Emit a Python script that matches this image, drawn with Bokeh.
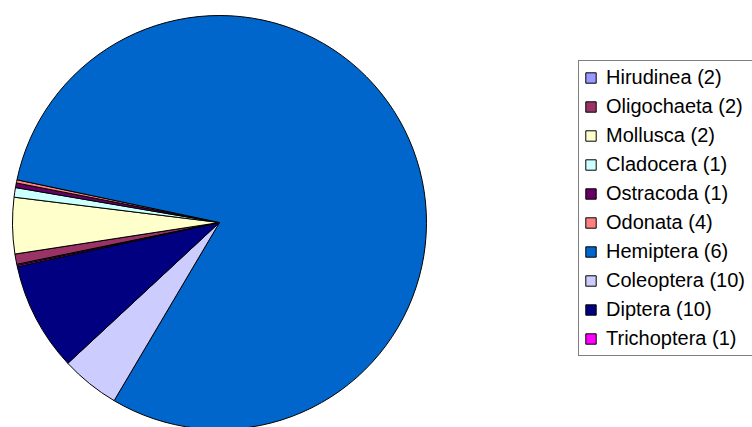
import numpy as np
from bokeh.plotting import figure
from bokeh.models import Range1d, ColumnDataSource, Legend, LegendItem
from bokeh.embed import file_html
from bokeh.resources import INLINE

# ---- data (legend order = clockwise slice order) ----
categories = ["Hirudinea (2)", "Oligochaeta (2)", "Mollusca (2)", "Cladocera (1)",
              "Ostracoda (1)", "Odonata (4)", "Hemiptera (6)", "Coleoptera (10)",
              "Diptera (10)", "Trichoptera (1)"]
shares = [0.1, 0.8, 4.4, 0.75, 0.36, 0.25, 80.4, 4.6, 8.5, 0.1]   # percent of total
colors = ["#9999FF", "#993366", "#FFFFCC", "#CCFFFF", "#660066",
          "#FF8080", "#0066CC", "#CCCCFF", "#000080", "#FF00FF"]
first_slice_angle_deg = 192.0

# ---- layout ----
W, H = 752, 427
cx, cy, R = 219, H - 222, 207

vals = np.array(shares, dtype=float)
ang = vals / vals.sum() * 2 * np.pi
start0 = np.deg2rad(first_slice_angle_deg)
cum = np.concatenate([[0], np.cumsum(ang)[:-1]])
starts = start0 - cum
ends = starts - ang

src = ColumnDataSource(dict(cat=categories, start=starts, end=ends, color=colors))

p = figure(width=W, height=H, output_backend="svg", toolbar_location=None,
           x_range=Range1d(0, W), y_range=Range1d(0, H),
           min_border=0, outline_line_color=None)
p.axis.visible = False
p.grid.visible = False
p.background_fill_color = "white"
p.border_fill_color = "white"

r = p.wedge(x=cx, y=cy, radius=R, start_angle="start", end_angle="end",
            direction="clock", fill_color="color", line_color="black",
            line_width=1, source=src)

items = [LegendItem(label=categories[i], renderers=[r], index=i)
         for i in range(len(categories))]
legend = Legend(items=items, location=(578, 71), padding=5, margin=0, spacing=6,
                glyph_width=13, glyph_height=13, label_standoff=9,
                label_text_font="Liberation Sans", label_text_font_size="20px",
                label_text_color="black", label_width=190,
                border_line_color="black", border_line_width=1,
                background_fill_color="white", background_fill_alpha=1.0)
p.add_layout(legend)

open("out.html", "w").write(file_html(p, INLINE))
